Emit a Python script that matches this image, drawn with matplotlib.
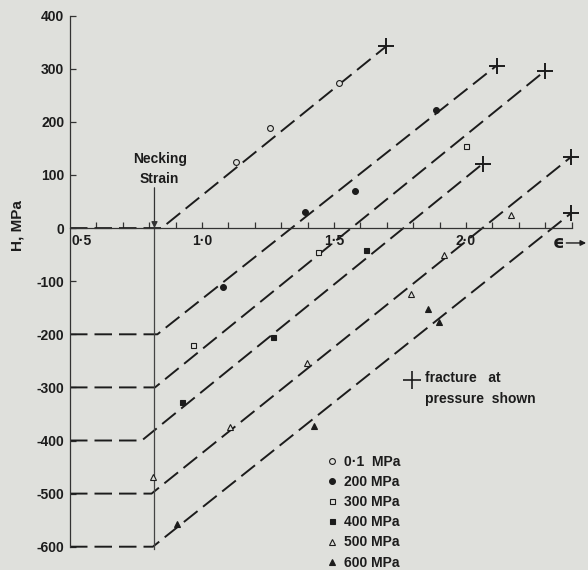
import matplotlib.pyplot as plt
from matplotlib.lines import Line2D

plt.rcParams['font.family'] = ['Liberation Sans', 'DejaVu Sans']
plt.rcParams['font.weight'] = 'bold'

bg = '#dfe0dc'
ink = '#1c1c1c'

# one entry per test pressure
labels = ['0·1  MPa', '200 MPa', '300 MPa', '400 MPa', '500 MPa', '600 MPa']
markers = ['o', 'o', 's', 's', '^', '^']
filled = [False, True, False, True, False, True]
msizes = [4.2, 4.2, 3.6, 3.6, 4.2, 4.2]
base_H = [0, -200, -300, -400, -500, -600]          # level of the flat part
kink_strain = [0.847, 0.831, 0.822, 0.772, 0.809, 0.814]
frac_strain = [1.697, 2.116, 2.299, 2.063, 2.398, 2.398]
frac_H = [342, 306, 296, 121, 134, 28]

pts_strain = [[1.129, 1.258, 1.519],
              [1.078, 1.39, 1.58, 1.886],
              [0.967, 1.438, 1.999],
              [0.923, 1.268, 1.621],
              [0.816, 1.106, 1.396, 1.79, 1.917, 2.169],
              [0.904, 1.424, 1.855, 1.898]]
pts_H = [[125, 189, 273],
         [-110, 31, 69, 223],
         [-220, -45, 154],
         [-328, -205, -41],
         [-469, -374, -254, -124, -50, 24],
         [-557, -372, -152, -176]]

necking_strain = 0.82
x_major = [1.0, 1.5, 2.0]
x_major_labels = ['1·0', '1·5', '2·0']
x_minor = [0.6, 0.7, 0.8, 0.9, 1.1, 1.2, 1.3, 1.4, 1.6, 1.7, 1.8, 1.9, 2.1, 2.2, 2.3, 2.4]
y_ticks = [400, 300, 200, 100, 0, -100, -200, -300, -400, -500, -600]
y_tick_labels = ['400', '300', '200', '100', '0', '-100', '-200', '-300', '-400', '-500', '-600']

fig = plt.figure(figsize=(5.88, 5.70), dpi=100, facecolor=bg)
ax = fig.add_axes([70 / 588, 0, 518 / 588, 1])
ax.set_facecolor(bg)
ax.set_xlim(0.5, 0.5 + 518 / 264)
ax.set_ylim(-600 - 23.3 / 0.531, 400 + 15.7 / 0.531)

for s in ['top', 'right']:
    ax.spines[s].set_visible(False)
ax.spines['bottom'].set_position(('data', 0))
ax.spines['bottom'].set_bounds(0.5, 2.4)
ax.spines['left'].set_bounds(-600, 400)
for s in ['bottom', 'left']:
    ax.spines[s].set_color('#333333')
    ax.spines[s].set_linewidth(0.9)

ax.set_xticks(x_major)
ax.set_xticklabels(x_major_labels)
ax.set_xticks(x_minor, minor=True)
ax.tick_params(axis='x', which='both', direction='in', length=4, width=0.9,
               color='#333333', labelsize=10, pad=4, labelcolor=ink)
ax.set_yticks(y_ticks)
ax.set_yticklabels(y_tick_labels)
ax.tick_params(axis='y', direction='in', length=4, width=0.9, color='#333333',
               labelsize=10, pad=4, labelcolor=ink)
ax.text(0.545, -12, '0·5', ha='center', va='top', fontsize=10, color=ink)

# dashed lines: flat at -P, then rising to fracture
for i in range(len(labels)):
    xs = [0.5, kink_strain[i], frac_strain[i]]
    ys = [base_H[i], base_H[i], frac_H[i]]
    ax.plot(xs, ys, color=ink, lw=1.4, linestyle=(0, (9, 3.6)), clip_on=False)
    ax.plot(frac_strain[i], frac_H[i], marker='+', ms=11, mew=1.4, color=ink,
            clip_on=False)

handles = []
for i in range(len(labels)):
    fc = ink if filled[i] else bg
    ax.plot(pts_strain[i], pts_H[i], linestyle='none', marker=markers[i],
            ms=msizes[i], mfc=fc, mec=ink, mew=0.8, zorder=5)
    handles.append(Line2D([], [], linestyle='none', marker=markers[i],
                          ms=msizes[i], mfc=fc, mec=ink, mew=0.8))

# necking strain marker
ax.plot([necking_strain, necking_strain], [0, -605], color='#444444', lw=0.9)
ax.annotate('', xy=(necking_strain, 0), xytext=(necking_strain, 76),
            arrowprops=dict(arrowstyle='-|>', color='#333333', lw=0.9,
                            mutation_scale=9, shrinkA=0, shrinkB=0))
ax.text(necking_strain + 0.02, 111, 'Necking\nStrain', ha='center', va='center',
        fontsize=10, color=ink, linespacing=1.58)

ax.text(-0.102, 1 - 226 / 570, 'H, MPa', transform=ax.transAxes, rotation=90,
        ha='center', va='center', fontsize=11, color=ink)

# strain axis label with arrow
ax.text(2.352, -28, '\u03f5', ha='center', va='center', fontsize=13, color=ink,
        family=['DejaVu Sans'])
ax.annotate('', xy=(2.455, -28), xytext=(2.38, -28),
            arrowprops=dict(arrowstyle='-|>', color=ink, lw=1.0,
                            mutation_scale=8, shrinkA=0, shrinkB=0),
            annotation_clip=False)

# fracture key
ax.plot(1.794, -286, marker='+', ms=13, mew=1.2, color=ink, clip_on=False)
ax.text(1.845, -270, 'fracture   at\npressure  shown', ha='left', va='top',
        fontsize=10, color=ink, linespacing=1.56)

ax.legend(handles, labels, loc='upper left', frameon=False,
          bbox_to_anchor=(325 / 588, 1 - 455 / 570), bbox_transform=fig.transFigure,
          borderpad=0, borderaxespad=0, handlelength=0.95, handletextpad=0.42,
          labelspacing=0.44, fontsize=10, labelcolor=ink)

fig.savefig('out.png', dpi=100, facecolor=bg)
